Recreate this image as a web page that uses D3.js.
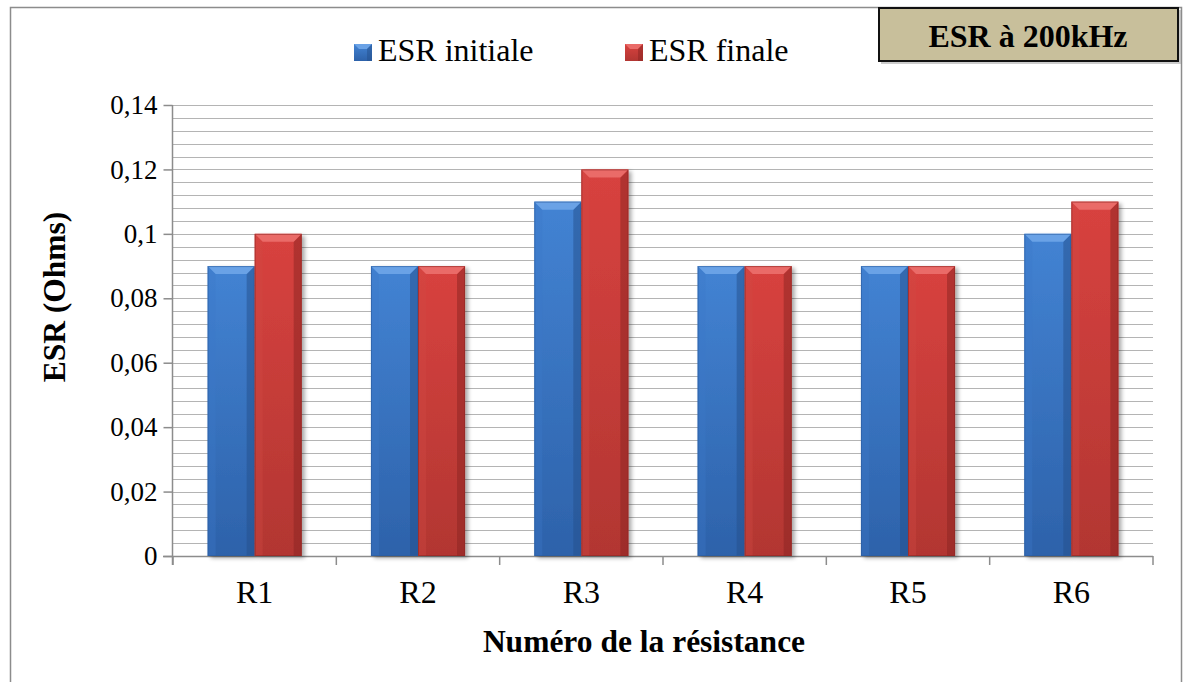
<!DOCTYPE html>
<html>
<head>
<meta charset="utf-8">
<script src="https://cdn.jsdelivr.net/npm/d3@7"></script>
<style>
  html, body { margin: 0; padding: 0; background: #fff; }
  svg { display: block; }
  text { font-family: "Liberation Serif", "Times New Roman", serif; fill: #000; }
</style>
</head>
<body>
<svg id="chart" width="1183" height="682"></svg>
<script>
// Résistances mesurées et valeurs d'ESR (Ohms) à 200 kHz
const categories = ["R1", "R2", "R3", "R4", "R5", "R6"];
const seriesNames = ["ESR initiale", "ESR finale"];
const esrInitiale = [0.09, 0.09, 0.11, 0.09, 0.09, 0.10];
const esrFinale   = [0.10, 0.09, 0.12, 0.09, 0.09, 0.11];
const yTicks = [0, 0.02, 0.04, 0.06, 0.08, 0.10, 0.12, 0.14];
const chartTitle = "ESR à 200kHz";
const xTitle = "Numéro de la résistance";
const yTitle = "ESR (Ohms)";

const svg = d3.select("#chart");

const plot = { left: 173, right: 1153, top: 105, bottom: 556 };

// Colour sets for the bevelled bars
const palettes = {
  "ESR initiale": { bevel: "#6aa2e6", top: "#4383d3", bottom: "#2d62aa", left: "#3b78c8", right: "#244f8c", outline: "#2a5c9f" },
  "ESR finale":   { bevel: "#ea6b68", top: "#d8423f", bottom: "#b23632", left: "#d24a46", right: "#8a2422", outline: "#8f2623" }
};

const defs = svg.append("defs");
seriesNames.forEach((s, i) => {
  const p = palettes[s];
  const g = defs.append("linearGradient").attr("id", "body" + i)
    .attr("x1", 0).attr("y1", 0).attr("x2", 0).attr("y2", 1);
  g.append("stop").attr("offset", "0%").attr("stop-color", p.top);
  g.append("stop").attr("offset", "100%").attr("stop-color", p.bottom);
});
const sh = defs.append("filter").attr("id", "shadow")
  .attr("x", "-20%").attr("y", "-5%").attr("width", "150%").attr("height", "115%");
sh.append("feGaussianBlur").attr("in", "SourceAlpha").attr("stdDeviation", 2.2);
sh.append("feOffset").attr("dx", 3).attr("dy", 2).attr("result", "b");
sh.append("feComponentTransfer").append("feFuncA").attr("type", "linear").attr("slope", 0.35);
const merge = sh.append("feMerge");
merge.append("feMergeNode");
merge.append("feMergeNode").attr("in", "SourceGraphic");

// Outer chart frame
svg.append("rect")
  .attr("x", 10.5).attr("y", 7.5).attr("width", 1171).attr("height", 700)
  .attr("fill", "#fff").attr("stroke", "#8c8c8c").attr("stroke-width", 1.5);

// Scales
const y = d3.scaleLinear().domain([0, 0.14]).range([plot.bottom, plot.top]);
const x0 = d3.scaleBand().domain(categories).range([plot.left, plot.right]).padding(0);
const gap = x0.bandwidth() * 0.212;
const x1 = d3.scaleBand().domain(seriesNames).range([gap, x0.bandwidth() - gap]).padding(0);

// Minor horizontal gridlines every 0.004
const gridVals = d3.range(1, 35).map(i => +(i * 0.004).toFixed(3)).concat([0.14]);
svg.append("g").selectAll("line").data(gridVals).join("line")
  .attr("x1", plot.left).attr("x2", plot.right)
  .attr("y1", d => Math.round(y(d)) + 0.5).attr("y2", d => Math.round(y(d)) + 0.5)
  .attr("stroke", "#b4b4b4").attr("stroke-width", 1.2);

// Y axis
const yAxis = d3.axisLeft(y).tickValues(yTicks).tickSize(9).tickPadding(6)
  .tickFormat(d => d === 0 ? "0" : d3.format(".2~f")(d).replace(".", ","));
const gy = svg.append("g").attr("transform", `translate(${plot.left - 0.5},0)`).call(yAxis);
gy.attr("font-family", null).attr("font-size", null);
gy.select(".domain").attr("stroke", "#8c8c8c").attr("stroke-width", 1.5)
  .attr("d", `M0,${plot.top}V${plot.bottom + 9}`);
gy.selectAll(".tick line").attr("stroke", "#8c8c8c").attr("stroke-width", 1.5);
gy.selectAll(".tick text").attr("font-size", 27).attr("fill", "#000");

// X axis line and category boundary ticks
const xg = svg.append("g");
xg.append("line").attr("x1", plot.left - 10).attr("x2", plot.right)
  .attr("y1", plot.bottom + 0.5).attr("y2", plot.bottom + 0.5)
  .attr("stroke", "#8c8c8c").attr("stroke-width", 1.5);
const bounds = categories.map(c => x0(c) + x0.bandwidth()).concat([plot.left]);
xg.selectAll("line.tk").data(bounds).join("line").attr("class", "tk")
  .attr("x1", d => d).attr("x2", d => d)
  .attr("y1", plot.bottom).attr("y2", plot.bottom + 9)
  .attr("stroke", "#8c8c8c").attr("stroke-width", 1.5);
xg.selectAll("text").data(categories).join("text")
  .attr("x", d => x0(d) + x0.bandwidth() / 2).attr("y", 603)
  .attr("text-anchor", "middle").attr("font-size", 32).text(d => d);

// Bars
const rows = categories.map((c, i) => ({ cat: c, values: [
  { s: seriesNames[0], v: esrInitiale[i], k: 0 },
  { s: seriesNames[1], v: esrFinale[i], k: 1 }
]}));

function bevelBar(g, x, yTop, w, h, p, k) {
  const b = 8;
  g.append("rect").attr("x", x).attr("y", yTop).attr("width", w).attr("height", h)
    .attr("fill", `url(#body${k})`).attr("filter", "url(#shadow)");
  g.append("path").attr("d", `M${x},${yTop}L${x + b},${yTop + b}L${x + b},${yTop + h}L${x},${yTop + h}Z`)
    .attr("fill", p.left).attr("opacity", 0.35);
  g.append("path").attr("d", `M${x + w},${yTop}L${x + w - b},${yTop + b}L${x + w - b},${yTop + h}L${x + w},${yTop + h}Z`)
    .attr("fill", p.right).attr("opacity", 0.5);
  g.append("path").attr("d", `M${x},${yTop}L${x + w},${yTop}L${x + w - b},${yTop + b}L${x + b},${yTop + b}Z`)
    .attr("fill", p.bevel);
  g.append("rect").attr("x", x + 0.5).attr("y", yTop + 0.5).attr("width", w - 1).attr("height", h - 1)
    .attr("fill", "none").attr("stroke", p.outline).attr("stroke-width", 1).attr("opacity", 0.6);
}

const barsG = svg.append("g");
rows.forEach(r => {
  r.values.forEach(d => {
    const bx = x0(r.cat) + x1(d.s);
    const by = y(d.v);
    bevelBar(barsG.append("g"), bx, by, x1.bandwidth(), plot.bottom - by, palettes[d.s], d.k);
  });
});

// Axis titles
svg.append("text").attr("x", 644).attr("y", 652).attr("text-anchor", "middle")
  .attr("font-size", 31.5).attr("font-weight", "bold").text(xTitle);
svg.append("text").attr("transform", "translate(65,297) rotate(-90)").attr("text-anchor", "middle")
  .attr("font-size", 31.5).attr("font-weight", "bold").text(yTitle);

// Legend
const legend = svg.append("g");
const legX = [354, 625];
seriesNames.forEach((s, i) => {
  const g = legend.append("g").attr("transform", `translate(${legX[i]},44)`);
  const p = palettes[s];
  g.append("rect").attr("width", 18).attr("height", 17).attr("fill", `url(#body${i})`);
  g.append("path").attr("d", "M0,0L18,0L13,5L5,5Z").attr("fill", p.bevel);
  g.append("path").attr("d", "M18,0L13,5L13,17L18,17Z").attr("fill", p.right).attr("opacity", 0.5);
  g.append("text").attr("x", 24).attr("y", 17).attr("font-size", 32).text(s);
});

// Title box
const tb = svg.append("g");
tb.append("rect").attr("x", 881).attr("y", 10).attr("width", 300).attr("height", 54)
  .attr("fill", "#9a9a9a").attr("opacity", 0.5);
tb.append("rect").attr("x", 879).attr("y", 8).attr("width", 299).attr("height", 53)
  .attr("fill", "#c8bf9b").attr("stroke", "#111").attr("stroke-width", 2);
tb.append("text").attr("x", 1028).attr("y", 47).attr("text-anchor", "middle")
  .attr("font-size", 32).attr("font-weight", "bold").text(chartTitle);
</script>
</body>
</html>
